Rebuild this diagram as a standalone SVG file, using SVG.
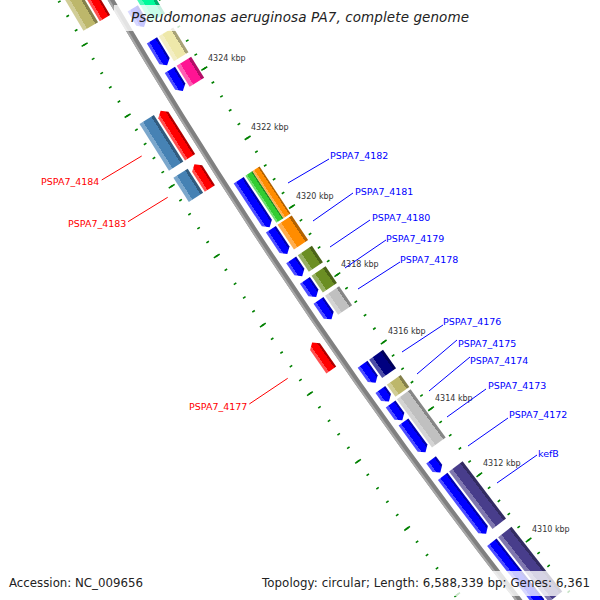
<svg xmlns="http://www.w3.org/2000/svg" width="600" height="600" viewBox="0 0 600 600">
<defs>
<style>
.t{font-family:"DejaVu Sans",sans-serif}
.tk{font-size:8px;fill:#333}
.lb{font-size:9.5px}
.lf{stroke:#0000ff;stroke-width:1;fill:none}
.lr{stroke:#ff0000;stroke-width:1;fill:none}
.box{fill:#fff;fill-opacity:0.78}
</style>
<linearGradient id="gBlue" x1="0" y1="0" x2="1" y2="0"><stop offset="0" stop-color="#0000b0"/><stop offset=".18" stop-color="#0000b0"/><stop offset=".18" stop-color="#0000ff"/><stop offset=".75" stop-color="#0000ff"/><stop offset=".75" stop-color="#4d4dff"/><stop offset="1" stop-color="#4d4dff"/></linearGradient>
<linearGradient id="gRed" x1="0" y1="0" x2="1" y2="0"><stop offset="0" stop-color="#b00000"/><stop offset=".18" stop-color="#b00000"/><stop offset=".18" stop-color="#ff0000"/><stop offset=".75" stop-color="#ff0000"/><stop offset=".75" stop-color="#ff5050"/><stop offset="1" stop-color="#ff5050"/></linearGradient>
<linearGradient id="gSteel" x1="0" y1="0" x2="1" y2="0"><stop offset="0" stop-color="#315b7e"/><stop offset=".18" stop-color="#315b7e"/><stop offset=".18" stop-color="#4682b4"/><stop offset=".75" stop-color="#4682b4"/><stop offset=".75" stop-color="#7ba7cc"/><stop offset="1" stop-color="#7ba7cc"/></linearGradient>
<linearGradient id="gPaleGold" x1="0" y1="0" x2="1" y2="0"><stop offset="0" stop-color="#a7a277"/><stop offset=".18" stop-color="#a7a277"/><stop offset=".18" stop-color="#eee8aa"/><stop offset=".75" stop-color="#eee8aa"/><stop offset=".75" stop-color="#f3eec4"/><stop offset="1" stop-color="#f3eec4"/></linearGradient>
<linearGradient id="gPink" x1="0" y1="0" x2="1" y2="0"><stop offset="0" stop-color="#b30e67"/><stop offset=".18" stop-color="#b30e67"/><stop offset=".18" stop-color="#ff1493"/><stop offset=".75" stop-color="#ff1493"/><stop offset=".75" stop-color="#ff5cb3"/><stop offset="1" stop-color="#ff5cb3"/></linearGradient>
<linearGradient id="gLime" x1="0" y1="0" x2="1" y2="0"><stop offset="0" stop-color="#238f23"/><stop offset=".18" stop-color="#238f23"/><stop offset=".18" stop-color="#32cd32"/><stop offset=".75" stop-color="#32cd32"/><stop offset=".75" stop-color="#6fdd6f"/><stop offset="1" stop-color="#6fdd6f"/></linearGradient>
<linearGradient id="gOrange" x1="0" y1="0" x2="1" y2="0"><stop offset="0" stop-color="#b36200"/><stop offset=".18" stop-color="#b36200"/><stop offset=".18" stop-color="#ff8c00"/><stop offset=".75" stop-color="#ff8c00"/><stop offset=".75" stop-color="#ffae4d"/><stop offset="1" stop-color="#ffae4d"/></linearGradient>
<linearGradient id="gOlive" x1="0" y1="0" x2="1" y2="0"><stop offset="0" stop-color="#4b6418"/><stop offset=".18" stop-color="#4b6418"/><stop offset=".18" stop-color="#6b8e23"/><stop offset=".75" stop-color="#6b8e23"/><stop offset=".75" stop-color="#97b065"/><stop offset="1" stop-color="#97b065"/></linearGradient>
<linearGradient id="gSilver" x1="0" y1="0" x2="1" y2="0"><stop offset="0" stop-color="#868686"/><stop offset=".18" stop-color="#868686"/><stop offset=".18" stop-color="#c0c0c0"/><stop offset=".75" stop-color="#c0c0c0"/><stop offset=".75" stop-color="#d3d3d3"/><stop offset="1" stop-color="#d3d3d3"/></linearGradient>
<linearGradient id="gNavy" x1="0" y1="0" x2="1" y2="0"><stop offset="0" stop-color="#00005a"/><stop offset=".18" stop-color="#00005a"/><stop offset=".18" stop-color="#000080"/><stop offset=".75" stop-color="#000080"/><stop offset=".75" stop-color="#4d4da6"/><stop offset="1" stop-color="#4d4da6"/></linearGradient>
<linearGradient id="gDkKhaki" x1="0" y1="0" x2="1" y2="0"><stop offset="0" stop-color="#84804b"/><stop offset=".18" stop-color="#84804b"/><stop offset=".18" stop-color="#bdb76b"/><stop offset=".75" stop-color="#bdb76b"/><stop offset=".75" stop-color="#d1cd97"/><stop offset="1" stop-color="#d1cd97"/></linearGradient>
<linearGradient id="gSlate" x1="0" y1="0" x2="1" y2="0"><stop offset="0" stop-color="#322b61"/><stop offset=".18" stop-color="#322b61"/><stop offset=".18" stop-color="#483d8b"/><stop offset=".75" stop-color="#483d8b"/><stop offset=".75" stop-color="#7f77ae"/><stop offset="1" stop-color="#7f77ae"/></linearGradient>
<linearGradient id="gMint" x1="0" y1="0" x2="1" y2="0"><stop offset="0" stop-color="#00af6c"/><stop offset=".18" stop-color="#00af6c"/><stop offset=".18" stop-color="#00fa9a"/><stop offset=".75" stop-color="#00fa9a"/><stop offset=".75" stop-color="#4dfbb8"/><stop offset="1" stop-color="#4dfbb8"/></linearGradient>
</defs>
<rect width="600" height="600" fill="#fff"/>
<g id="map" transform="translate(4960 -2856)">
 <g id="ruler">
  <g transform="rotate(140.857)" fill="none" stroke="#008000">
   <path d="M5583 0A5583 5583 0 0 1 5510.70 895.57" stroke-width="3" stroke-dasharray="1.6 14.755" stroke-dashoffset="0.8"/>
   <path d="M5583 0A5583 5583 0 0 1 5510.70 895.57" stroke-width="7" stroke-dasharray="1.6 80.175" stroke-dashoffset="0.8"/>
   <path d="M5673 0A5673 5673 0 0 1 5599.53 910.01" stroke-width="3" stroke-dasharray="1.6 15.019" stroke-dashoffset="0.8"/>
   <path d="M5673 0A5673 5673 0 0 1 5599.53 910.01" stroke-width="7" stroke-dasharray="1.6 81.493" stroke-dashoffset="0.8"/>
  </g>
 </g>
 <g id="backbone" transform="rotate(140.857)" fill="none">
  <path d="M5627.5 0A5627.5 5627.5 0 0 1 5554.62 902.71" stroke="#808080" stroke-width="6"/>
  <path d="M5629.5 0A5629.5 5629.5 0 0 1 5556.59 903.03" stroke="#a8a8a8" stroke-width="2"/>
 </g>
 <g id="F0" transform="rotate(149.094)">
  <polygon fill="url(#gBlue)" points="5607,21.8 5619,21.8 5619,5 5613,0 5607,5"/>
  <rect fill="url(#gMint)" x="5588" y="0.8" width="17" height="48"/>
 </g>
 <g id="F1" transform="rotate(148.637)">
  <polygon fill="url(#gBlue)" points="5607,29.2 5619,29.2 5619,5 5613,0 5607,5"/>
  <rect fill="url(#gPaleGold)" x="5588" y="0" width="17" height="29.2"/>
 </g>
 <g id="F2" transform="rotate(148.330)">
  <polygon fill="url(#gBlue)" points="5607,24.7 5619,24.7 5619,5 5613,0 5607,5"/>
  <rect fill="url(#gPink)" x="5588" y="0" width="17" height="24.7"/>
 </g>
 <g id="F3" transform="rotate(146.681)">
  <polygon fill="url(#gBlue)" points="5607,56.3 5619,56.3 5619,5 5613,0 5607,5"/>
  <rect fill="url(#gLime)" x="5596.5" y="0" width="8.5" height="56.3"/>
  <rect fill="url(#gOrange)" x="5588" y="0" width="8.5" height="56.3"/>
 </g>
 <g id="F4" transform="rotate(146.354)">
  <polygon fill="url(#gBlue)" points="5607,29.6 5619,29.6 5619,5 5613,0 5607,5"/>
  <rect fill="url(#gOrange)" x="5588" y="0" width="17" height="29.6"/>
 </g>
 <g id="F5" transform="rotate(146.081)">
  <polygon fill="url(#gBlue)" points="5607,19.7 5619,19.7 5619,5 5613,0 5607,5"/>
  <rect fill="url(#gOlive)" x="5588" y="0" width="17" height="19.7"/>
 </g>
 <g id="F6" transform="rotate(145.825)">
  <polygon fill="url(#gBlue)" points="5607,20.1 5619,20.1 5619,5 5613,0 5607,5"/>
  <rect fill="url(#gOlive)" x="5588" y="0" width="17" height="20.1"/>
 </g>
 <g id="F7" transform="rotate(145.548)">
  <polygon fill="url(#gBlue)" points="5607,23 5619,23 5619,5 5613,0 5607,5"/>
  <rect fill="url(#gSilver)" x="5588" y="0" width="17" height="23"/>
 </g>
 <g id="F8" transform="rotate(144.760)">
  <polygon fill="url(#gBlue)" points="5607,22.6 5619,22.6 5619,5 5613,0 5607,5"/>
  <rect fill="url(#gNavy)" x="5588" y="0" width="17" height="22.6"/>
 </g>
 <g id="F9" transform="rotate(144.525)">
  <polygon fill="url(#gBlue)" points="5607,14.8 5619,14.8 5619,5 5613,0 5607,5"/>
  <rect fill="url(#gDkKhaki)" x="5588" y="0" width="17" height="14.8"/>
 </g>
 <g id="F10" transform="rotate(144.290)">
  <polygon fill="url(#gBlue)" points="5607,20.1 5619,20.1 5619,5 5613,0 5607,5"/>
 </g>
 <g id="F11" transform="rotate(143.887)">
  <polygon fill="url(#gBlue)" points="5607,37.4 5619,37.4 5619,5 5613,0 5607,5"/>
  <rect fill="url(#gSilver)" x="5588" y="0" width="17" height="59.6"/>
 </g>
 <g id="F12" transform="rotate(143.631)">
  <polygon fill="url(#gBlue)" points="5607,15.6 5619,15.6 5619,5 5613,0 5607,5"/>
 </g>
 <g id="F13" transform="rotate(142.850)">
  <polygon fill="url(#gBlue)" points="5607,71.9 5619,71.9 5619,5 5613,0 5607,5"/>
  <rect fill="url(#gSlate)" x="5588" y="0" width="17" height="71.9"/>
 </g>
 <g id="F14" transform="rotate(141.906)">
  <polygon fill="url(#gBlue)" points="5607,82.2 5619,82.2 5619,5 5613,0 5607,5"/>
  <rect fill="url(#gSlate)" x="5588" y="0" width="17" height="82.2"/>
 </g>
 <g id="R0" transform="rotate(149.375)">
  <polygon fill="url(#gRed)" points="5636,0 5648,0 5648,65.4 5642,70.4 5636,65.4"/>
  <rect fill="url(#gDkKhaki)" x="5650" y="0" width="17" height="70.4"/>
 </g>
 <g id="R1" transform="rotate(147.718)">
  <polygon fill="url(#gRed)" points="5636,0 5648,0 5648,50.1 5642,55.1 5636,50.1"/>
  <rect fill="url(#gSteel)" x="5650" y="0" width="17" height="55.1"/>
 </g>
 <g id="R2" transform="rotate(147.344)">
  <polygon fill="url(#gRed)" points="5636,0 5648,0 5648,23.6 5642,28.6 5636,23.6"/>
  <rect fill="url(#gSteel)" x="5650" y="0" width="17" height="28.6"/>
 </g>
 <g id="R3" transform="rotate(145.125)">
  <polygon fill="url(#gRed)" points="5636,0 5648,0 5648,28.5 5642,33.5 5636,28.5"/>
 </g>
</g>
<g id="tick-labels" class="t tk">
 <text x="208" y="61">4324 kbp</text>
 <text x="251" y="130">4322 kbp</text>
 <text x="296" y="199">4320 kbp</text>
 <text x="341" y="267">4318 kbp</text>
 <text x="388" y="334">4316 kbp</text>
 <text x="435" y="401">4314 kbp</text>
 <text x="483" y="466">4312 kbp</text>
 <text x="532" y="532">4310 kbp</text>
</g>
<g id="connectors">
 <path class="lf" d="M329 159L288 183M353 193L313 221M370 220L330 247M386 240L345 268M400 262L358 289M443 325L402 352M457 340L417 374M470 357L429 391M486 389L447 417M508 418L468 446M537 455L497 483"/>
 <path class="lr" d="M101.7 180L141.7 156M128 221.7L167.7 197.3M249.3 404L287.7 378.3"/>
</g>
<g id="gene-labels" class="t lb">
 <text x="330" y="159" fill="#0000ff">PSPA7_4182</text>
 <text x="355" y="195" fill="#0000ff">PSPA7_4181</text>
 <text x="372" y="221" fill="#0000ff">PSPA7_4180</text>
 <text x="386" y="242" fill="#0000ff">PSPA7_4179</text>
 <text x="400" y="263" fill="#0000ff">PSPA7_4178</text>
 <text x="443" y="325" fill="#0000ff">PSPA7_4176</text>
 <text x="458" y="347" fill="#0000ff">PSPA7_4175</text>
 <text x="470" y="364" fill="#0000ff">PSPA7_4174</text>
 <text x="488" y="389" fill="#0000ff">PSPA7_4173</text>
 <text x="509" y="418" fill="#0000ff">PSPA7_4172</text>
 <text x="538" y="457" fill="#0000ff">kefB</text>
 <text x="41" y="185" fill="#ff0000">PSPA7_4184</text>
 <text x="68" y="227" fill="#ff0000">PSPA7_4183</text>
 <text x="189" y="410" fill="#ff0000">PSPA7_4177</text>
</g>
<g id="title">
 <rect class="box" x="114" y="5" width="364" height="26"/>
 <text class="t" x="131" y="22" font-size="13.5" font-style="italic" fill="#222" textLength="338">Pseudomonas aeruginosa PA7, complete genome</text>
</g>
<g id="footer">
 <rect class="box" x="4" y="571" width="145" height="25"/>
 <text class="t" x="9" y="587" font-size="11.8" fill="#222" textLength="134">Accession: NC_009656</text>
 <rect class="box" x="256" y="571" width="340" height="25"/>
 <text class="t" x="262" y="587" font-size="11.8" fill="#222" textLength="328">Topology: circular; Length: 6,588,339 bp; Genes: 6,361</text>
</g>
</svg>
